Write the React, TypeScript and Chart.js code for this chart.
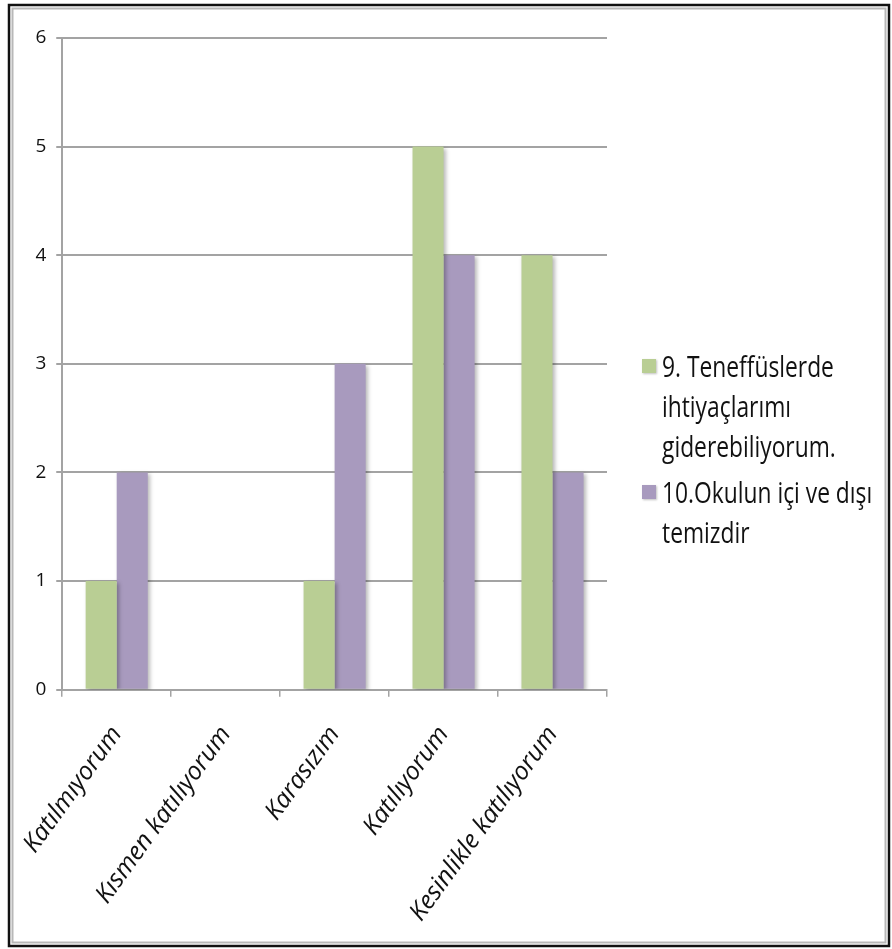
import React, { useEffect, useRef } from "react";
import { Chart, registerables } from "chart.js";

Chart.register(...registerables);

const categories = [
  "Katılmıyorum",
  "Kısmen katılıyorum",
  "Karasızım",
  "Katılıyorum",
  "Kesinlikle katılıyorum",
];
const series9Label = ["9. Teneffüslerde", "ihtiyaçlarımı", "giderebiliyorum."];
const series9Values = [1, 0, 1, 5, 4];
const series10Label = ["10.Okulun içi ve dışı", "temizdir"];
const series10Values = [2, 0, 3, 4, 2];
const yTicks = [0, 1, 2, 3, 4, 5, 6];

const GREEN = "#b9ce94";
const PURPLE = "#a89abe";
const GRID = "#a3a3a3";

const framePlugin = {
  id: "frame",
  beforeDraw(chart: any) {
    const ctx = chart.ctx;
    ctx.save();
    ctx.fillStyle = "#ffffff";
    ctx.fillRect(0, 0, chart.width, chart.height);
    ctx.strokeStyle = "#111111";
    ctx.lineWidth = 2.5;
    ctx.strokeRect(9, 5, 880, 941);
    ctx.strokeStyle = "#b8b8b8";
    ctx.lineWidth = 2;
    ctx.strokeRect(12.5, 8.5, 873, 934);
    ctx.restore();
  },
};

const shadowPlugin = {
  id: "barShadow",
  beforeDatasetsDraw(chart: any) {
    const ctx = chart.ctx;
    ctx.save();
    ctx.shadowColor = "rgba(0,0,0,0.28)";
    ctx.shadowBlur = 4;
    ctx.shadowOffsetX = 2;
    ctx.shadowOffsetY = 2;
  },
  afterDatasetsDraw(chart: any) {
    chart.ctx.restore();
  },
};

const legendPlugin = {
  id: "wrapLegend",
  afterDraw(chart: any) {
    const ctx = chart.ctx;
    const entries = chart.data.datasets.map((d: any) => ({
      lines: d.legendLines as string[],
      color: d.backgroundColor as string,
    }));
    const x0 = 642;
    let baseline = 377;
    const lineGap = 40;
    const entryGap = 6;
    ctx.save();
    entries.forEach((e: any) => {
      ctx.shadowColor = "rgba(0,0,0,0.25)";
      ctx.shadowBlur = 2;
      ctx.shadowOffsetX = 1;
      ctx.shadowOffsetY = 1;
      ctx.fillStyle = e.color;
      ctx.fillRect(x0, baseline - 18, 14, 14);
      ctx.shadowColor = "transparent";
      ctx.fillStyle = "#111111";
      ctx.font = "30px 'Open Sans'";
      ctx.textBaseline = "alphabetic";
      e.lines.forEach((line: string) => {
        ctx.save();
        ctx.translate(662, baseline);
        ctx.scale(0.76, 1);
        ctx.fillText(line, 0, 0);
        ctx.restore();
        baseline += lineGap;
      });
      baseline += entryGap;
    });
    ctx.restore();
  },
};

export default function App() {
  const ref = useRef<HTMLCanvasElement | null>(null);
  useEffect(() => {
    if (!ref.current) return;
    const chart = new Chart(ref.current, {
      type: "bar",
      data: {
        labels: categories,
        datasets: [
          {
            label: series9Label.join(" "),
            legendLines: series9Label,
            data: series9Values,
            backgroundColor: GREEN,
            borderWidth: 0,
          } as any,
          {
            label: series10Label.join(" "),
            legendLines: series10Label,
            data: series10Values,
            backgroundColor: PURPLE,
            borderWidth: 0,
          } as any,
        ],
      },
      options: {
        responsive: false,
        animation: false,
        devicePixelRatio: 1,
        layout: { padding: { left: 16, top: 38, right: 285, bottom: -2 } },
        datasets: { bar: { categoryPercentage: 0.57, barPercentage: 1 } },
        plugins: {
          legend: { display: false },
          tooltip: { enabled: false },
          title: { display: false },
        },
        scales: {
          x: {
            grid: {
              offset: true,
              drawOnChartArea: false,
              drawTicks: true,
              tickLength: 7,
              color: GRID,
              lineWidth: 1.5,
            },
            border: { color: GRID, width: 2 },
            ticks: {
              minRotation: 54,
              maxRotation: 54,
              autoSkip: false,
              color: "#111111",
              padding: 24,
              font: { family: "'Open Sans'", size: 25, style: "italic" },
            },
          },
          y: {
            min: 0,
            max: 6,
            afterBuildTicks(scale: any) {
              scale.ticks = yTicks.map((v) => ({ value: v }));
            },
            grid: { color: GRID, lineWidth: 2, tickLength: 6 },
            border: { color: GRID, width: 2 },
            ticks: {
              color: "#111111",
              padding: 10,
              font: { family: "'Open Sans'", size: 19 },
            },
          },
        },
      },
      plugins: [framePlugin, shadowPlugin, legendPlugin],
    });
    return () => chart.destroy();
  }, []);
  return (
    <div style={{ position: "fixed", left: 0, top: 0, width: 892, height: 949 }}>
      <canvas ref={ref} width={892} height={949} style={{ display: "block" }} />
    </div>
  );
}
